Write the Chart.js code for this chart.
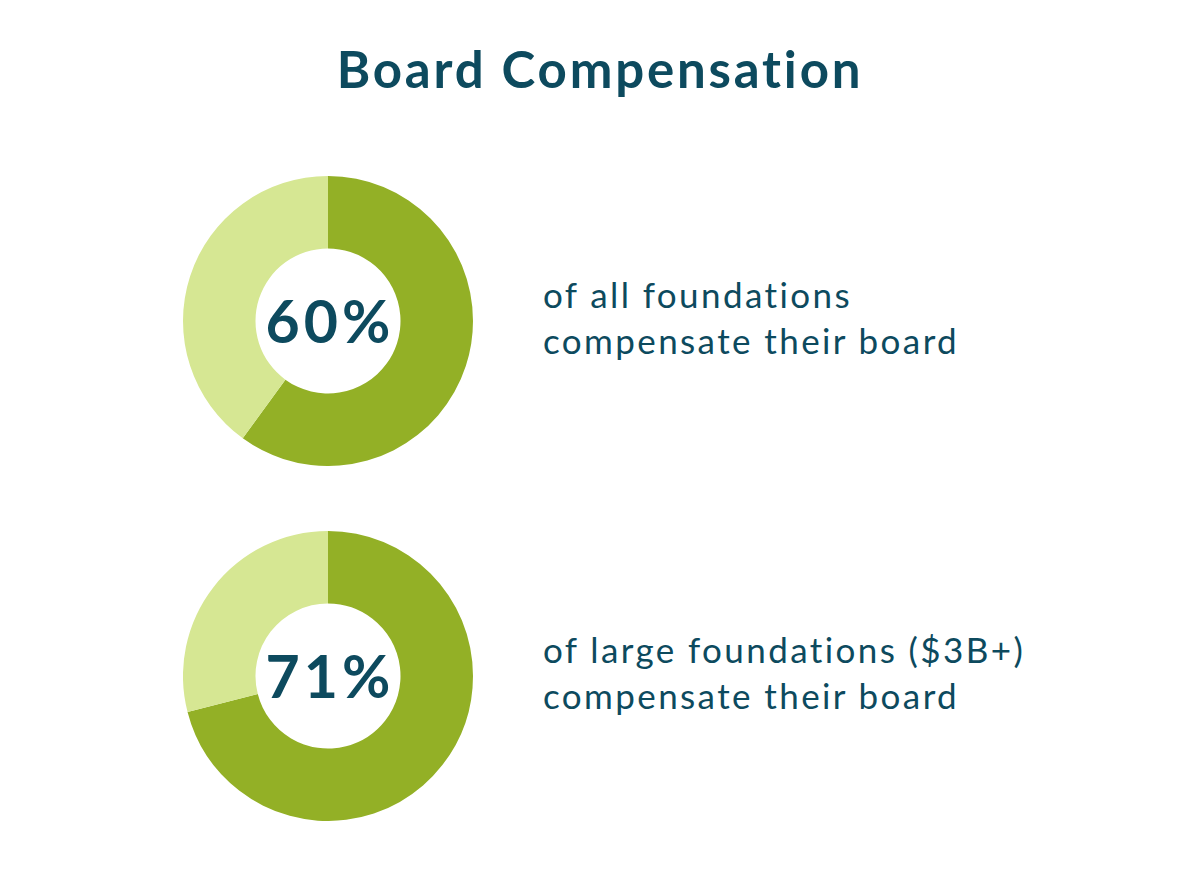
<!DOCTYPE html>
<html>
<head>
<meta charset="utf-8">
<script src="https://cdn.jsdelivr.net/npm/chart.js@4.4.1/dist/chart.umd.min.js"></script>
<style>
  html, body { margin: 0; padding: 0; background: #fff; }
  body { width: 1200px; height: 870px; position: relative; overflow: hidden; font-family: Lato, 'Open Sans', sans-serif; color: #0d4a5e; }
  h1 { position: absolute; top: 38px; left: 0; width: 1200px; margin: 0; text-align: center; font-size: 51px; font-weight: 700; letter-spacing: 2.8px; padding-left: 0; box-sizing: border-box; }
  .donut { position: absolute; width: 290px; height: 290px; }
  .center { position: absolute; width: 290px; text-align: center; font-size: 59px; font-weight: 700; line-height: 60px; letter-spacing: 4px; padding-left: 4px; box-sizing: border-box; }
  .caption { position: absolute; left: 543px; font-size: 35px; line-height: 46px; letter-spacing: 2.4px; }
</style>
</head>
<body>
<h1>Board Compensation</h1>

<div class="donut" style="left:183px; top:176px;"><canvas id="donut-all" width="290" height="290"></canvas></div>
<div class="center" style="left:183px; top:291px;">60%</div>
<div class="caption" style="top:271px;">of all foundations<br>compensate their board</div>

<div class="donut" style="left:183px; top:531px;"><canvas id="donut-large" width="290" height="290"></canvas></div>
<div class="center" style="left:183px; top:646px;">71%</div>
<div class="caption" style="top:626px;">of large foundations ($3B+)<br>compensate their board</div>

<script>
// share of foundations that compensate their board
const groups = ['All foundations', 'Large foundations ($3B+)'];
const compensated = [60, 71];
const notCompensated = [40, 29];
const sliceLabels = ['Compensate', 'Do not compensate'];

const DARK = '#93b026';
const LIGHT = '#d6e793';

function makeDonut(id, i) {
  const ctx = document.getElementById(id).getContext('2d');
  return new Chart(ctx, {
    type: 'doughnut',
    data: {
      labels: sliceLabels,
      datasets: [{
        label: groups[i],
        data: [compensated[i], notCompensated[i]],
        backgroundColor: [DARK, LIGHT],
        borderWidth: 0,
        hoverOffset: 0,
      }]
    },
    options: {
      responsive: false,
      cutout: '50%',
      layout: { padding: 0 },
      plugins: {
        legend: { display: false },
        tooltip: { enabled: false }
      },
      animation: false
    }
  });
}

makeDonut('donut-all', 0);
makeDonut('donut-large', 1);
</script>
</body>
</html>
